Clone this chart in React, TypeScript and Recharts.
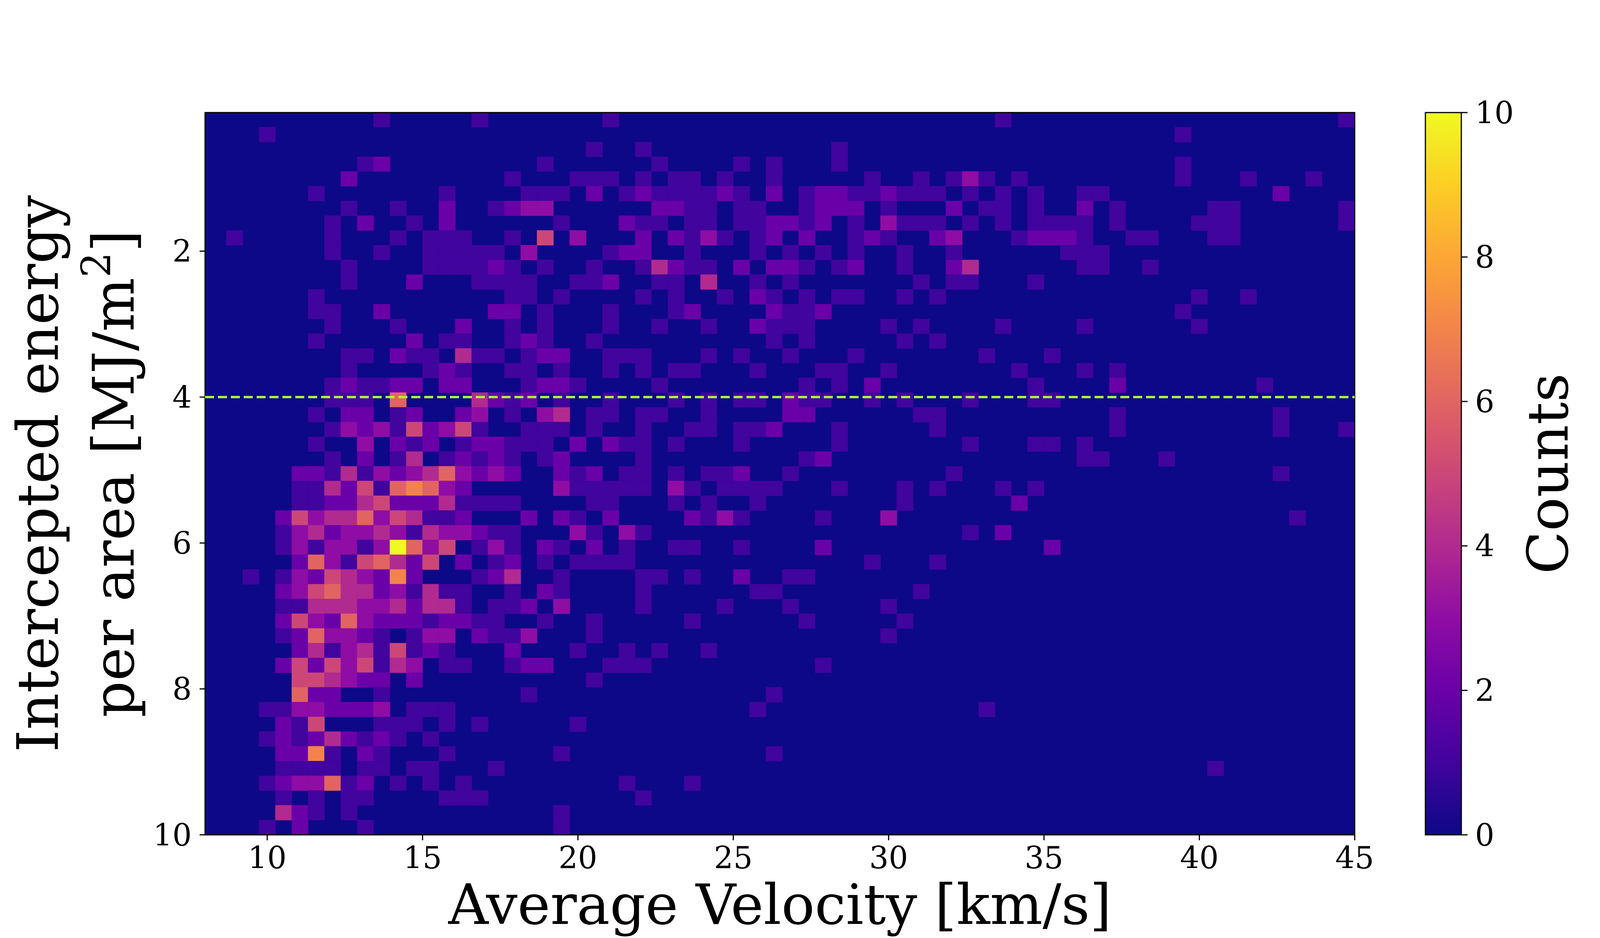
import React from "react";
import {
  ComposedChart,
  XAxis,
  YAxis,
  Scatter,
  ReferenceArea,
  ReferenceLine,
} from "recharts";

// histogram bins (velocity in km/s, intercepted energy in MJ/m^2)
const X_MIN = 8.16;
const X_MAX = 45;
const X_BINS = 70;
const Y_MIN = 0.1;
const Y_MAX = 10;
const Y_BINS = 49;

// counts per cell, one string per energy bin (top row first), 'a' = 10
const countRows = [
  "0000000000 1000001000 0000100000 0000000000 0000000010 0000000000 0000000001",
  "0001000000 0000000000 0000000000 0000000000 0000000000 0000000001 0000000000",
  "0000000000 0000000000 0001001000 0000000010 0000000000 0000000000 0000000000",
  "0000000001 2000000000 1000000100 0010100010 0000000000 0000000001 0000000000",
  "0000000020 0000000010 0011101011 0100100000 1001013101 0000000001 0001000100",
  "0000001000 0000100001 1102012111 1210201221 1211101010 1001100000 0000020000",
  "0000000010 0100200123 3000000221 1011001222 0100020110 1002010000 0110000001",
  "0000000102 0010200000 0100021101 1011221201 0311101010 1111010000 1110000001",
  "0100000100 0101110010 5030002021 3101202001 2100230001 2221001100 0110000000",
  "0000000100 1001111103 0000122001 0001010101 0010010000 0011100000 0000000000",
  "0000000010 0001111210 1001001421 1020221012 0010024000 0001100100 0000000000",
  "0000000010 0020001111 0011200110 4001010000 0001011000 1000000000 0000000000",
  "0000001000 0000000011 0100001010 0102101011 0010100000 0000000000 1001000000",
  "0000001100 2000000220 1000100012 0000211200 0000000000 0000000001 0000000000",
  "0000000100 0100020010 1000100100 1002111000 0101000010 0001000000 1000000000",
  "0000001000 0020110012 1001000000 0000101000 0010100000 0000000000 0000000000",
  "0000000011 0211041101 2200111000 1010010001 0000000100 0100000000 0000000000",
  "0000000010 0001210011 0100101011 0001000110 0100000001 0001010000 0000000000",
  "0000000121 1220220001 2210000100 0000001010 2000000000 1000020000 0000100000",
  "0000000111 0600004212 0100100010 1011021100 1010001000 1100000000 0000000000",
  "0000001022 0120023010 3401101100 1000022000 0001100000 0000010000 0000010000",
  "0000000132 3152351001 1101001001 1011200010 0000100000 0000010000 0000010001",
  "0000001003 0212012211 1020211010 0010000010 0000001000 1101000000 0000000000",
  "0000000102 0140121210 1200001000 0000001200 0000000000 0001100010 0000000000",
  "0000022141 3234632320 0212011010 1120010000 0000010000 0000000000 0000010000",
  "0000011425 1676320000 0311111031 0111100010 0010100010 1000000000 0000000000",
  "0000011224 5222411110 0001100010 1001000000 0010000002 0000000000 0000000000",
  "0000253446 3541120002 0210200002 1310000100 0300000000 0000000000 0000001000",
  "0000134233 4314332110 0031031000 0000000000 0000001020 0000000000 0000000000",
  "0000131331 3a63501310 2102010011 0010000200 0000000000 0200000000 0000000000",
  "0000026315 6425020120 1011110000 0000000000 1000100000 0000000000 0000000000",
  "0010132543 2720001240 0100001101 0020011000 0000000000 0000000000 0000000000",
  "0000235644 2314110010 2100001000 0001100000 0001000000 0000000000 0000000000",
  "0000114443 3424410112 0300001000 0100010000 0100000000 0000000000 0000000000",
  "0000253263 2221221100 1001000001 0000001000 0010000000 0000000000 0000000000",
  "0000126332 1013302113 0001000000 0000000000 0100000000 0000000000 0000000000",
  "0000024134 1512100020 0010010100 1000000000 0000000000 0000000000 0000000000",
  "0000252535 1430110012 2000111000 0000000100 0000000000 0000000000 0000000000",
  "0000055432 2020000000 0001000000 0000000000 0000000000 0000000000 0000000000",
  "0000062200 1000000001 0000000000 0000100000 0000000000 0000000000 0000000000",
  "0001133222 3011100000 0000000000 0001000000 0000000100 0000000000 0000000000",
  "0000215000 1110101000 0010000000 0000000000 0000000000 0000000000 0000000000",
  "0001212421 2101000000 0000000000 0000000000 0000000000 0000000000 0000000000",
  "0000227102 1000100000 0100000000 0000100000 0000000000 0000000000 0000000000",
  "0000111101 1011000100 0000000000 0000000000 0000000000 0000000000 0100000000",
  "0001233612 0101010000 0000010001 0000000000 0000000000 0000000000 0000000000",
  "0000101011 0000111000 0000001000 0000000000 0000000000 0000000000 0000000000",
  "0000421010 0000000000 0100000000 0000000000 0000000000 0000000000 0000000000",
  "0001020001 0000000000 0100000000 0000000000 0000000000 0000000000 0000000000",
];

const xTicks = [10, 15, 20, 25, 30, 35, 40, 45];
const yTicks = [2, 4, 6, 8, 10];
const countTicks = [0, 2, 4, 6, 8, 10];
const energyLimit = 4;
const maxCount = 10;

// matplotlib "plasma" at 0, 0.1, ... 1
const PLASMA = [
  "#0d0887", "#41049d", "#6a00a8", "#8f0da4", "#b12a90", "#cc4778",
  "#e16462", "#f2844b", "#fca636", "#fcce25", "#f0f921",
];

const FONT = "'DejaVu Serif', serif";

// page layout (px)
const PLOT_LEFT = 525;
const PLOT_RIGHT = 3468;
const PLOT_TOP = 288;
const PLOT_BOTTOM = 2136;
const MID_Y = (PLOT_TOP + PLOT_BOTTOM) / 2;

function hexToRgb(h: string) {
  const n = parseInt(h.slice(1), 16);
  return [(n >> 16) & 255, (n >> 8) & 255, n & 255];
}

function plasma(t: number) {
  const v = Math.max(0, Math.min(1, t)) * (PLASMA.length - 1);
  const i = Math.min(Math.floor(v), PLASMA.length - 2);
  const f = v - i;
  const a = hexToRgb(PLASMA[i]);
  const b = hexToRgb(PLASMA[i + 1]);
  const c = a.map((x, k) => Math.round(x + (b[k] - x) * f));
  return `rgb(${c[0]},${c[1]},${c[2]})`;
}

function parseRow(row: string) {
  return row
    .replace(/ /g, "")
    .split("")
    .map((ch) => (ch === "a" ? 10 : Number(ch)));
}

const tickStyle = { fill: "#000", fontSize: 78, fontFamily: FONT };

export default function App() {
  const dx = (X_MAX - X_MIN) / X_BINS;
  const dy = (Y_MAX - Y_MIN) / Y_BINS;

  const cells: { x1: number; x2: number; y1: number; y2: number; n: number }[] = [];
  countRows.map(parseRow).forEach((row, r) => {
    row.forEach((n, c) => {
      if (n > 0) {
        cells.push({
          x1: X_MIN + c * dx,
          x2: X_MIN + (c + 1) * dx,
          y1: Y_MIN + r * dy,
          y2: Y_MIN + (r + 1) * dy,
          n,
        });
      }
    });
  });

  return (
    <div
      style={{
        position: "absolute",
        left: 0,
        top: 0,
        width: 4200,
        height: 2400,
        background: "#fff",
        fontFamily: FONT,
      }}
    >
      <svg width={0} height={0} style={{ position: "absolute" }}>
        <defs>
          <linearGradient id="plasmaBar" x1="0" y1="1" x2="0" y2="0">
            {PLASMA.map((c, i) => (
              <stop key={i} offset={i / (PLASMA.length - 1)} stopColor={c} />
            ))}
          </linearGradient>
        </defs>
      </svg>

      {/* heatmap */}
      <div style={{ position: "absolute", left: 0, top: 0 }}>
        <ComposedChart
          width={3600}
          height={2400}
          margin={{ top: PLOT_TOP, right: 3600 - PLOT_RIGHT, bottom: 2400 - PLOT_BOTTOM - 200, left: PLOT_LEFT - 200 }}
        >
          <XAxis
            type="number"
            dataKey="x"
            domain={[8, 45]}
            ticks={xTicks}
            allowDataOverflow
            height={200}
            tickSize={14}
            tickMargin={17}
            axisLine={false}
            tickLine={{ stroke: "#000", strokeWidth: 3 }}
            tick={tickStyle}
            label={{
              content: () => (
                <text
                  x={(PLOT_LEFT + PLOT_RIGHT) / 2}
                  y={2364}
                  textAnchor="middle"
                  fontSize={142}
                  fontFamily={FONT}
                  fill="#000"
                >
                  Average Velocity [km/s]
                </text>
              ),
            }}
          />
          <YAxis
            type="number"
            dataKey="y"
            domain={[Y_MIN, Y_MAX]}
            ticks={yTicks}
            reversed
            allowDataOverflow
            width={200}
            tickSize={14}
            tickMargin={20}
            axisLine={false}
            tickLine={{ stroke: "#000", strokeWidth: 3 }}
            tick={tickStyle}
            label={{
              content: () => (
                <g fontFamily={FONT} fontSize={146} fill="#000">
                  <text x={148} y={MID_Y} textAnchor="middle" transform={`rotate(-90 148 ${MID_Y})`}>
                    Intercepted energy
                  </text>
                  <text x={342} y={MID_Y} textAnchor="middle" transform={`rotate(-90 342 ${MID_Y})`}>
                    per area [MJ/m
                    <tspan fontSize={102} dy={-60}>2</tspan>
                    <tspan dy={60}>]</tspan>
                  </text>
                </g>
              ),
            }}
          />
          <ReferenceArea x1={8} x2={45} y1={Y_MIN} y2={Y_MAX} fill={PLASMA[0]} fillOpacity={1} stroke="none" />
          {cells.map((c, i) => (
            <ReferenceArea
              key={i}
              x1={c.x1}
              x2={c.x2}
              y1={c.y1}
              y2={c.y2}
              fill={plasma(c.n / maxCount)}
              fillOpacity={1}
              stroke={plasma(c.n / maxCount)}
              strokeWidth={1}
            />
          ))}
          <ReferenceLine y={energyLimit} stroke="#adff2f" strokeWidth={6} strokeDasharray="23 10" />
          <ReferenceArea x1={8} x2={45} y1={Y_MIN} y2={Y_MAX} fill="none" stroke="#000" strokeWidth={3} />
          <Scatter data={[]} isAnimationActive={false} />
        </ComposedChart>
      </div>

      {/* colorbar */}
      <div style={{ position: "absolute", left: 3600, top: 0 }}>
        <ComposedChart
          width={600}
          height={2400}
          margin={{ top: PLOT_TOP, right: 600 - 141 - 300, bottom: 2400 - PLOT_BOTTOM, left: 49 }}
        >
          <XAxis type="number" dataKey="x" domain={[0, 1]} allowDataOverflow hide />
          <YAxis
            type="number"
            dataKey="y"
            orientation="right"
            domain={[0, maxCount]}
            ticks={countTicks}
            allowDataOverflow
            width={300}
            tickSize={16}
            tickMargin={19}
            axisLine={false}
            tickLine={{ stroke: "#000", strokeWidth: 3 }}
            tick={tickStyle}
            label={{
              content: () => (
                <text
                  x={413}
                  y={MID_Y}
                  textAnchor="middle"
                  transform={`rotate(-90 413 ${MID_Y})`}
                  fontSize={144}
                  fontFamily={FONT}
                  fill="#000"
                >
                  Counts
                </text>
              ),
            }}
          />
          <ReferenceArea x1={0} x2={1} y1={0} y2={maxCount} fill="url(#plasmaBar)" fillOpacity={1} stroke="#000" strokeWidth={3} />
          <Scatter data={[]} isAnimationActive={false} />
        </ComposedChart>
      </div>
    </div>
  );
}
